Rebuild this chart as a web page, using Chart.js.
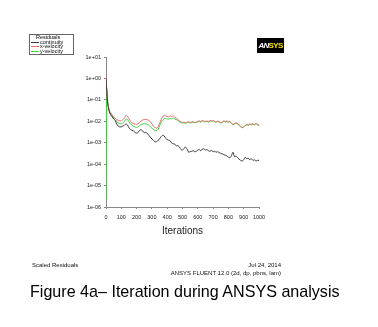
<!DOCTYPE html>
<html>
<head>
<meta charset="utf-8">
<script src="https://cdn.jsdelivr.net/npm/chart.js@4/dist/chart.umd.min.js"></script>
<style>
  body { margin: 0; background: #fff; font-family: "Liberation Sans", Arial, sans-serif; }
  #wrap { position: relative; width: 378px; height: 327px; overflow: hidden; }
  #residualChart { position: absolute; left: 0; top: 0; }
  .txt { position: absolute; white-space: nowrap; color: #111; }
  #legendBox { position: absolute; left: 29px; top: 34px; width: 43px; height: 19px; border: 1px solid #666; background: #fff; font-size: 5.5px; line-height: 4.6px; }
  #legendBox .row { position: relative; padding-left: 10px; }
  #legendBox .row span { position: absolute; left: 1px; top: 2px; width: 8px; height: 1px; }
  #logo { position: absolute; left: 257px; top: 38px; width: 27px; height: 15px; background: #000; font-weight: bold; font-size: 8px; line-height: 15px; text-align: center; letter-spacing: -0.7px; font-family: "Liberation Sans Narrow", "Liberation Sans", sans-serif; }
</style>
</head>
<body>
<div id="wrap">
  <canvas id="residualChart" width="378" height="327"></canvas>
  <div id="legendBox"></div>
  <div id="logo"><span style="color:#fff; font-style:italic">AN</span><span style="color:#f5e000">SYS</span></div>
  <div class="txt" style="left:32px; top:262px; font-size:6px;">Scaled Residuals</div>
  <div class="txt" style="right:97px; top:262px; font-size:6px; text-align:right;">Jul 24, 2014</div>
  <div class="txt" style="right:97px; top:270px; font-size:6px; text-align:right;">ANSYS FLUENT 12.0 (2d, dp, pbns, lam)</div>
  <div class="txt" style="left:30px; top:282px; font-size:16.1px; color:#000;">Figure 4a– Iteration during ANSYS analysis</div>
</div>
<script>
const iterations = [0, 5, 10, 20, 30, 40, 50, 60, 70, 80, 90, 100, 110, 120, 130, 140, 150, 160, 170, 180, 190, 200,
  210, 220, 230, 240, 250, 260, 270, 280, 290, 300, 310, 320, 330, 340, 350, 360, 370, 380, 390, 400,
  410, 420, 430, 440, 450, 460, 470, 480, 490, 500, 510, 520, 530, 540, 550, 560, 570, 580, 590, 600,
  610, 620, 630, 640, 650, 660, 670, 680, 690, 700, 710, 720, 730, 740, 750, 760, 770, 780, 790, 800,
  810, 820, 830, 840, 850, 860, 870, 880, 890, 900, 910, 920, 930, 940, 950, 960, 970, 980, 990, 1000];

const continuity = [1.0, 0.25, 0.08, 0.03, 0.02, 0.016, 0.013, 0.011, 0.0075, 0.006, 0.0055, 0.0055,
  0.006, 0.0065, 0.0075, 0.0068, 0.005, 0.0042, 0.0038, 0.0035, 0.003, 0.0028,
  0.003, 0.0038, 0.0041, 0.0035, 0.0029, 0.0031, 0.0027, 0.0022, 0.0018, 0.0015,
  0.0013, 0.0011, 0.0011, 0.0013, 0.0015, 0.0019, 0.0022, 0.0021, 0.0016, 0.0014,
  0.0013, 0.0012, 0.00095, 0.0009, 0.00085, 0.0007, 0.00075, 0.00062, 0.00048, 0.00045,
  0.00055, 0.00062, 0.0005, 0.00036, 0.00038, 0.0004, 0.00042, 0.00038, 0.0004, 0.00045,
  0.00048, 0.00042, 0.0005, 0.00052, 0.00045, 0.00048, 0.00042, 0.0004, 0.00044, 0.00038,
  0.0004, 0.00036, 0.00038, 0.00034, 0.00032, 0.0003, 0.00028, 0.00026, 0.00024, 0.00021,
  0.0002, 0.00025, 0.00036, 0.00022, 0.00024, 0.0002, 0.00017, 0.00015, 0.00014, 0.00016,
  0.00021, 0.00018, 0.00019, 0.00016, 0.00018, 0.00015, 0.00016, 0.00014, 0.00015, 0.00015];

const xVelocity = [1.2, 0.3, 0.09, 0.035, 0.025, 0.02, 0.016, 0.014, 0.012, 0.011, 0.0105, 0.0105,
  0.012, 0.014, 0.019, 0.017, 0.013, 0.01, 0.0085, 0.0078, 0.0074, 0.0072,
  0.0078, 0.009, 0.0105, 0.0115, 0.012, 0.0122, 0.0118, 0.011, 0.0095, 0.0075,
  0.0058, 0.0052, 0.0048, 0.0055, 0.008, 0.012, 0.016, 0.019, 0.018, 0.017,
  0.016, 0.018, 0.017, 0.018, 0.015, 0.014, 0.012, 0.0105, 0.0095, 0.0088,
  0.0092, 0.0085, 0.009, 0.0095, 0.0088, 0.0092, 0.0095, 0.0088, 0.0093, 0.0098,
  0.0105, 0.0095, 0.011, 0.0102, 0.0098, 0.0105, 0.0095, 0.011, 0.0104, 0.0112,
  0.0098, 0.0094, 0.0102, 0.0097, 0.0088, 0.0092, 0.0105, 0.0098, 0.0104, 0.0095,
  0.0098, 0.0082, 0.0072, 0.0078, 0.0085, 0.0078, 0.0068, 0.0058, 0.0052, 0.0055,
  0.0065, 0.0072, 0.0068, 0.0075, 0.0072, 0.0078, 0.007, 0.0082, 0.0072, 0.0066];

const yVelocity = [0.000002, 0.3, 0.085, 0.033, 0.024, 0.018, 0.014, 0.012, 0.0095, 0.0085, 0.0078, 0.0075,
  0.0082, 0.0095, 0.0125, 0.012, 0.0095, 0.0075, 0.0065, 0.0058, 0.0054, 0.0052,
  0.0056, 0.0062, 0.007, 0.0075, 0.0077, 0.0076, 0.0072, 0.0065, 0.0056, 0.0048,
  0.0041, 0.0038, 0.0037, 0.0042, 0.006, 0.0088, 0.0115, 0.013, 0.0135, 0.0128,
  0.0125, 0.0135, 0.013, 0.014, 0.0125, 0.012, 0.0105, 0.0095, 0.0088, 0.0082,
  0.0086, 0.008, 0.0085, 0.009, 0.0083, 0.0088, 0.009, 0.0085, 0.0088, 0.0094,
  0.0098, 0.009, 0.0104, 0.0098, 0.0094, 0.01, 0.009, 0.0104, 0.0098, 0.0106,
  0.0094, 0.009, 0.0097, 0.0092, 0.0084, 0.0088, 0.0099, 0.0093, 0.0098, 0.009,
  0.0093, 0.0078, 0.0068, 0.0074, 0.008, 0.0074, 0.0064, 0.0055, 0.005, 0.0052,
  0.0062, 0.0068, 0.0065, 0.0071, 0.0068, 0.0074, 0.0066, 0.0078, 0.0068, 0.0062];

const seriesNames = ['continuity', 'x-velocity', 'y-velocity'];
const seriesColors = ['#3a3a3a', '#e46a6a', '#3ccf3c'];
const decadeTicks = [1e-6, 1e-5, 1e-4, 1e-3, 1e-2, 1e-1, 1e0, 1e1];
const decadeLabels = ['1e-06', '1e-05', '1e-04', '1e-03', '1e-02', '1e-01', '1e+00', '1e+01'];
const xTicks = [0, 100, 200, 300, 400, 500, 600, 700, 800, 900, 1000];

function toPoints(values) {
    return values.map((v, i) => ({ x: iterations[i], y: v }));
}

// legend box (html)
const legendBox = document.getElementById('legendBox');
legendBox.innerHTML = '<div class="row" style="padding-left:6px">Residuals</div>' +
    seriesNames.map((n, i) => `<div class="row"><span style="background:${seriesColors[i]}"></span>${n}</div>`).join('');

const ctx = document.getElementById('residualChart').getContext('2d');
const chart = new Chart(ctx, {
    type: 'line',
    data: {
        datasets: [continuity, xVelocity, yVelocity].map((vals, i) => ({
            label: seriesNames[i],
            data: toPoints(vals),
            borderColor: seriesColors[i],
            borderWidth: 1,
            pointRadius: 0,
            tension: 0.3,
            fill: false
        }))
    },
    options: {
        responsive: false,
        animation: false,
        layout: { padding: { left: 0, right: 119, top: 57, bottom: 90 } },
        plugins: { legend: { display: false }, tooltip: { enabled: false } },
        scales: {
            x: {
                type: 'linear',
                min: 0,
                max: 1000,
                afterBuildTicks: s => { s.ticks = xTicks.map(v => ({ value: v })); },
                afterFit: s => { s.height = 30; },
                border: { color: '#888', width: 1 },
                grid: { drawOnChartArea: false, tickLength: 2, color: '#888' },
                ticks: {
                    font: { size: 5.5, family: 'Liberation Sans' },
                    color: '#222',
                    padding: 5,
                    maxRotation: 0,
                    autoSkip: false,
                    callback: (v) => String(v)
                },
                title: { display: true, text: 'Iterations', font: { size: 10, family: 'Liberation Sans' }, color: '#222', padding: { top: 4, bottom: 0 } }
            },
            y: {
                type: 'logarithmic',
                min: 1e-6,
                max: 10,
                afterBuildTicks: s => { s.ticks = decadeTicks.map(v => ({ value: v })); },
                afterFit: s => { s.width = 106; },
                border: { color: '#888', width: 1 },
                grid: { drawOnChartArea: false, tickLength: 2, color: '#888' },
                ticks: {
                    font: { size: 5.5, family: 'Liberation Sans' },
                    color: '#222',
                    padding: 3,
                    autoSkip: false,
                    callback: (v) => decadeLabels[decadeTicks.indexOf(v)]
                }
            }
        }
    }
});
</script>
</body>
</html>
